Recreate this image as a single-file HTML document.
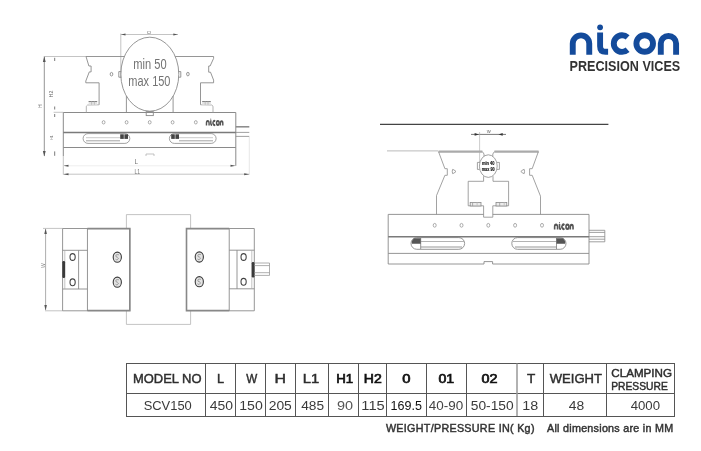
<!DOCTYPE html>
<html><head><meta charset="utf-8">
<style>
html,body{margin:0;padding:0;background:#fff;}
body{width:701px;height:451px;overflow:hidden;}
svg{display:block;will-change:transform;font-family:"Liberation Sans",sans-serif;}
</style></head>
<body>
<svg width="701" height="451" viewBox="0 0 701 451">
<rect width="701" height="451" fill="#fff"/>

<!-- ============ LOGO ============ -->
<defs>
 <g id="nic">
  <g fill="none" stroke="currentColor">
   <path d="M572.75 54.8 V43.6 A8.25 8.25 0 0 1 589.25 43.6 V54.8"/>
   <path d="M600.1 32.4 V46.2 Q600.1 51.8 605.6 51.8 H608.1"/>
   <path d="M627.6 37.4 A8.3 8.3 0 1 0 627.6 49.8"/>
   <circle cx="644.7" cy="43.5" r="8.3"/>
   <path d="M660.8 54.8 V43.6 A7.65 7.65 0 0 1 676.1 43.6 V54.8"/>
  </g>
  <circle cx="600.1" cy="27.3" r="2.9" fill="currentColor"/>
 </g>
</defs>
<use href="#nic" color="#144b9b" stroke-width="5.9"/>
<text x="569.6" y="70.8" font-size="15.3" font-weight="bold" fill="#333" textLength="110.6" lengthAdjust="spacingAndGlyphs">PRECISION VICES</text>

<!-- ============ TABLE ============ -->
<g stroke="#555" stroke-width="1" fill="none">
  <rect x="126.5" y="363.5" width="548" height="53"/>
  <line x1="126.5" y1="393.5" x2="674.5" y2="393.5"/>
  <line x1="205.5" y1="363.5" x2="205.5" y2="416"/>
  <line x1="235.5" y1="363.5" x2="235.5" y2="416"/>
  <line x1="265.5" y1="363.5" x2="265.5" y2="416"/>
  <line x1="295.5" y1="363.5" x2="295.5" y2="416"/>
  <line x1="328.5" y1="363.5" x2="328.5" y2="416"/>
  <line x1="358.5" y1="363.5" x2="358.5" y2="416"/>
  <line x1="386.5" y1="363.5" x2="386.5" y2="416"/>
  <line x1="426.5" y1="363.5" x2="426.5" y2="416"/>
  <line x1="466.5" y1="363.5" x2="466.5" y2="416"/>
  <line x1="517" y1="363.5" x2="517" y2="416" stroke="#999" stroke-width="1.5"/>
  <line x1="543.5" y1="363.5" x2="543.5" y2="416"/>
  <line x1="606.5" y1="363.5" x2="606.5" y2="416"/>
</g>
<g id="tabletext">
<text x="132.99" y="383.00" font-size="12.90" stroke="#2e2e2e" stroke-width="0.45" fill="#2e2e2e" textLength="68.53" lengthAdjust="spacingAndGlyphs">MODEL NO</text>
<text x="216.96" y="382.70" font-size="12.90" stroke="#2e2e2e" stroke-width="0.45" fill="#2e2e2e" textLength="7.06" lengthAdjust="spacingAndGlyphs">L</text>
<text x="246.20" y="382.70" font-size="12.90" stroke="#2e2e2e" stroke-width="0.45" fill="#2e2e2e" textLength="11.00" lengthAdjust="spacingAndGlyphs">W</text>
<text x="274.49" y="382.70" font-size="12.90" stroke="#2e2e2e" stroke-width="0.45" fill="#2e2e2e" textLength="11.49" lengthAdjust="spacingAndGlyphs">H</text>
<text x="302.72" y="382.70" font-size="12.90" stroke="#2e2e2e" stroke-width="0.45" fill="#2e2e2e" textLength="16.50" lengthAdjust="spacingAndGlyphs">L1</text>
<text x="336.27" y="382.70" font-size="12.90" stroke="#111" stroke-width="0.7" fill="#111" textLength="16.95" lengthAdjust="spacingAndGlyphs">H1</text>
<text x="363.81" y="382.70" font-size="12.90" stroke="#111" stroke-width="0.7" fill="#111" textLength="17.94" lengthAdjust="spacingAndGlyphs">H2</text>
<text x="402.34" y="383.00" font-size="12.90" stroke="#111" stroke-width="0.7" fill="#111" textLength="8.22" lengthAdjust="spacingAndGlyphs">0</text>
<text x="438.42" y="383.00" font-size="12.90" stroke="#111" stroke-width="0.7" fill="#111" textLength="15.76" lengthAdjust="spacingAndGlyphs">01</text>
<text x="481.58" y="383.00" font-size="12.90" stroke="#111" stroke-width="0.7" fill="#111" textLength="16.00" lengthAdjust="spacingAndGlyphs">02</text>
<text x="527.04" y="382.70" font-size="12.90" stroke="#2e2e2e" stroke-width="0.45" fill="#2e2e2e" textLength="8.27" lengthAdjust="spacingAndGlyphs">T</text>
<text x="549.81" y="382.70" font-size="12.90" stroke="#2e2e2e" stroke-width="0.45" fill="#2e2e2e" textLength="52.09" lengthAdjust="spacingAndGlyphs">WEIGHT</text>
<text x="611.39" y="377.00" font-size="11.00" stroke="#2e2e2e" stroke-width="0.45" fill="#2e2e2e" textLength="60.61" lengthAdjust="spacingAndGlyphs">CLAMPING</text>
<text x="611.27" y="390.00" font-size="11.00" stroke="#2e2e2e" stroke-width="0.45" fill="#2e2e2e" textLength="56.47" lengthAdjust="spacingAndGlyphs">PRESSURE</text>
<text x="143.63" y="410.10" font-size="13.60" fill="#3a3a3a" textLength="48.15" lengthAdjust="spacingAndGlyphs">SCV150</text>
<text x="209.65" y="409.90" font-size="13.60" fill="#3a3a3a" textLength="23.27" lengthAdjust="spacingAndGlyphs">450</text>
<text x="239.25" y="409.90" font-size="13.60" fill="#3a3a3a" textLength="23.52" lengthAdjust="spacingAndGlyphs">150</text>
<text x="268.70" y="409.90" font-size="13.60" fill="#3a3a3a" textLength="23.12" lengthAdjust="spacingAndGlyphs">205</text>
<text x="301.15" y="409.90" font-size="13.60" fill="#3a3a3a" textLength="22.89" lengthAdjust="spacingAndGlyphs">485</text>
<text x="336.94" y="409.90" font-size="13.60" fill="#555" textLength="16.06" lengthAdjust="spacingAndGlyphs">90</text>
<text x="361.34" y="409.90" font-size="13.60" fill="#3a3a3a" textLength="23.39" lengthAdjust="spacingAndGlyphs">115</text>
<text x="390.50" y="410.40" font-size="13.60" fill="#111" textLength="31.40" lengthAdjust="spacingAndGlyphs">169.5</text>
<text x="428.86" y="410.40" font-size="13.60" fill="#444" textLength="34.45" lengthAdjust="spacingAndGlyphs">40-90</text>
<text x="470.74" y="410.40" font-size="13.60" fill="#3a3a3a" textLength="42.89" lengthAdjust="spacingAndGlyphs">50-150</text>
<text x="522.31" y="410.40" font-size="13.60" fill="#3a3a3a" textLength="15.97" lengthAdjust="spacingAndGlyphs">18</text>
<text x="568.66" y="410.10" font-size="13.60" fill="#3a3a3a" textLength="15.45" lengthAdjust="spacingAndGlyphs">48</text>
<text x="630.68" y="410.10" font-size="13.60" fill="#3a3a3a" textLength="29.37" lengthAdjust="spacingAndGlyphs">4000</text>
<text x="385.90" y="431.70" font-size="10.75" stroke="#333" stroke-width="0.45" fill="#333" textLength="148.58" lengthAdjust="spacing">WEIGHT/PRESSURE IN( Kg)</text>
<text x="547.04" y="431.70" font-size="10.75" stroke="#333" stroke-width="0.45" fill="#333" textLength="126.13" lengthAdjust="spacing">All dimensions are in MM</text>
</g>
<!-- DRAWINGS inserted below -->
<g id="d1">
 <!-- dimension / extension lines -->
 <g stroke="#aaa" stroke-width="0.7" fill="none">
  <line x1="43.7" y1="56.5" x2="86" y2="56.5"/>
  <line x1="53.6" y1="112.3" x2="63.2" y2="112.3"/>
  <line x1="120.8" y1="33.5" x2="120.8" y2="78"/>
  <line x1="120.8" y1="34.5" x2="178" y2="34.5"/>
  <line x1="63.3" y1="156" x2="63.3" y2="174.5"/>
  
  <line x1="249.3" y1="137" x2="249.3" y2="174.5" stroke="#ddd"/>
  <line x1="63.3" y1="174.2" x2="249.3" y2="174.2"/>
  <line x1="63.3" y1="165.8" x2="235.7" y2="165.8" stroke="#e6e6e6"/>
 </g>
 <line x1="44.3" y1="57" x2="44.3" y2="156" stroke="#7a7a7a" stroke-width="0.8"/>
 <g fill="#555">
  <path d="M44.3 56.3 L42.9 62 L45.7 62 Z"/>
  <path d="M44.3 156.5 L42.9 151 L45.7 151 Z"/>
  <path d="M63.5 165.8 L68.5 164.8 L68.5 166.8 Z"/>
  <path d="M235.5 165.8 L230.5 164.8 L230.5 166.8 Z"/>
  <path d="M63.5 174.2 L68.5 173.2 L68.5 175.2 Z"/>
  <path d="M249.2 174.2 L244.2 173.2 L244.2 175.2 Z"/>
  <path d="M121 34.5 L125.5 33.5 L125.5 35.5 Z"/>
  <path d="M177.8 34.5 L173.3 33.5 L173.3 35.5 Z"/>
 </g>
 <g stroke="#7a7a7a" stroke-width="1" fill="none">
  <line x1="54.7" y1="57.8" x2="54.7" y2="61"/>
  <line x1="54.7" y1="106.5" x2="54.7" y2="109.5"/>
  <line x1="54.7" y1="114" x2="54.7" y2="117"/>
  <line x1="54.7" y1="151.4" x2="54.7" y2="155.8"/>
 </g>
 <!-- labels -->
 <g fill="#666" font-size="5">
  <text transform="translate(146.8,31) rotate(90)" font-size="4.5">D</text>
  <text x="134.6" y="164.4" font-size="6.3" fill="#777">L</text>
  <text x="134.4" y="173.6" font-size="6.8" fill="#777" textLength="5.6" lengthAdjust="spacingAndGlyphs">L1</text>
  <text transform="translate(52.9,97.4) rotate(-90)" textLength="6.7" lengthAdjust="spacingAndGlyphs">H2</text>
  <text transform="translate(42.4,108) rotate(-90)">H</text>
  <text transform="translate(52.6,139.7) rotate(-90)" font-size="4" textLength="4.4" lengthAdjust="spacingAndGlyphs">H1</text>
 </g>
 <!-- base -->
 <g stroke="#8a8a8a" stroke-width="1" fill="none">
  <polyline points="63.3,156 63.3,112.5 235.8,112.5 235.8,165.8"/>
  <line x1="63.3" y1="147.5" x2="235.8" y2="147.5"/>
  <polyline points="146,156 146,154 154,154 154,156" stroke="#aaa" stroke-width="0.7"/>
 </g>
 <line x1="63.3" y1="132.6" x2="235.8" y2="132.6" stroke="#7a7a7a" stroke-width="1.5"/>
 <!-- spindle -->
 <g stroke="#888" fill="none">
  <line x1="235.8" y1="126.8" x2="249.3" y2="126.8" stroke-width="1.5"/>
  <line x1="235.8" y1="132.4" x2="249.3" y2="132.4" stroke-width="0.8"/>
  <line x1="235.8" y1="136.4" x2="249.3" y2="136.4" stroke-width="0.8"/>
 </g>
 <!-- holes -->
 <g stroke="#8a8a8a" stroke-width="0.7" fill="none">
  <ellipse cx="103.6" cy="122.3" rx="1.4" ry="1.7"/>
  <ellipse cx="126.6" cy="122.3" rx="1.4" ry="1.7"/>
  <ellipse cx="149.7" cy="122.3" rx="1.4" ry="1.7"/>
  <ellipse cx="172.6" cy="122.3" rx="1.4" ry="1.7"/>
  <ellipse cx="195.8" cy="122.3" rx="1.4" ry="1.7"/>
 </g>
 <use href="#nic" color="#555" stroke-width="9" transform="translate(206,120.3) scale(0.158,0.235) translate(-569.75,-32.2)"/>
 <!-- slots -->
 <g stroke="#8a8a8a" stroke-width="0.8" fill="none">
  <rect x="83.1" y="133.6" width="46.7" height="9.8" rx="4.9"/>
  <line x1="86" y1="137.7" x2="120" y2="137.7" stroke="#bbb"/>
  <line x1="86" y1="140.8" x2="120" y2="140.8"/>
  <rect x="169.4" y="133.6" width="46.7" height="9.8" rx="4.9"/>
  <line x1="179" y1="137.7" x2="213" y2="137.7" stroke="#bbb"/>
  <line x1="179" y1="140.8" x2="213" y2="140.8"/>
 </g>
 <g fill="#444">
  <rect x="120.2" y="134.3" width="3.6" height="4.6"/>
  <rect x="124.4" y="134.3" width="3.6" height="4.6"/>
  <rect x="171.2" y="134.3" width="3.6" height="4.6"/>
  <rect x="175.4" y="134.3" width="3.6" height="4.6"/>
 </g>
 <!-- jaws -->
 <g stroke="#8a8a8a" stroke-width="0.9" fill="none">
  <polyline points="124.2,56.5 86,56.5 88.9,66 91.1,66 91.1,71.9 89.3,71.9 85.8,81 85.8,82.8 99.1,82.8 99.1,104.8"/>
  <polyline points="99.1,104.8 87.6,105 86.3,106.2 86.3,112.3" stroke="#aaa"/>
  <polyline points="175.2,56.5 213.6,56.5 213.6,58.4 210.1,66 208.7,66 208.7,72.2 210.5,72.2 213.6,80.1 213.6,82.8 200.5,82.8 200.5,104.8"/>
  <polyline points="200.5,104.8 211.7,105 213,106.2 213,112.3" stroke="#aaa"/>
  <line x1="126.4" y1="96" x2="126.4" y2="112.3"/>
  <line x1="173.1" y1="96" x2="173.1" y2="112.3"/>
  <ellipse cx="149.8" cy="74.2" rx="29" ry="37"/>
  <polyline points="121.2,71.6 118.8,71.6 118.8,77.2 121.2,77.2"/>
  <polyline points="178.4,71.6 180.8,71.6 180.8,77.2 178.4,77.2"/>
  <rect x="146.2" y="111.6" width="7.1" height="4"/>
  <ellipse cx="111.5" cy="74.2" rx="1.3" ry="1.8"/>
  <ellipse cx="187.9" cy="74.1" rx="1.3" ry="1.8"/>
  <rect x="88.6" y="101.6" width="8.6" height="3.2" fill="#e2e2e2" stroke="none"/>
  <line x1="88.6" y1="101.5" x2="97.2" y2="101.5" stroke="#777"/>
  <line x1="91.6" y1="101.6" x2="91.6" y2="104.8" stroke="#bbb"/>
  <line x1="94.4" y1="101.6" x2="94.4" y2="104.8" stroke="#bbb"/>
  <rect x="202.2" y="101.6" width="8.6" height="3.2" fill="#e2e2e2" stroke="none"/>
  <line x1="202.2" y1="101.5" x2="210.8" y2="101.5" stroke="#777"/>
  <line x1="205.2" y1="101.6" x2="205.2" y2="104.8" stroke="#bbb"/>
  <line x1="208" y1="101.6" x2="208" y2="104.8" stroke="#bbb"/>
 </g>
 <g fill="#737373" font-size="14.8" text-anchor="middle">
  <text x="150" y="69" textLength="33.3" lengthAdjust="spacingAndGlyphs">min 50</text>
  <text x="149.4" y="85.7" textLength="42.2" lengthAdjust="spacingAndGlyphs">max 150</text>
 </g>
</g>
<g id="d2">
 <g stroke="#aaa" stroke-width="0.7" fill="none">
  <line x1="43" y1="228.4" x2="62.6" y2="228.4"/>
  <line x1="45" y1="310.8" x2="62.6" y2="310.8"/>
  <polyline points="126.4,228.6 126.4,214.6 190.6,214.6 190.6,228.6"/>
  <polyline points="126.4,310.6 126.4,324.4 190.6,324.4 190.6,310.6"/>
 </g>
 <line x1="45.6" y1="229" x2="45.6" y2="310" stroke="#8a8a8a" stroke-width="0.7"/>
 <g fill="#555">
  <path d="M45.6 228.4 L44.3 234 L46.9 234 Z"/>
  <path d="M45.6 310.6 L44.3 305 L46.9 305 Z"/>
 </g>
 <text transform="translate(45,268) rotate(-90)" font-size="5" fill="#888">W</text>
 <!-- body -->
 <g stroke="#8a8a8a" stroke-width="0.9" fill="none">
  <polyline points="87.4,228.5 62.6,228.5 62.6,310.8 87.4,310.8"/>
  <polyline points="229.2,228.5 254.3,228.5 254.3,310.8 229.2,310.8"/>
  <line x1="62.6" y1="250.3" x2="87.4" y2="250.3"/>
  <line x1="62.6" y1="289" x2="87.4" y2="289"/>
  <line x1="78.6" y1="250.3" x2="78.6" y2="289"/>
  <line x1="64.8" y1="250.3" x2="64.8" y2="289" stroke="#aaa" stroke-width="0.7"/>
  <line x1="229.2" y1="250.2" x2="254.3" y2="250.2"/>
  <line x1="229.2" y1="288.8" x2="254.3" y2="288.8"/>
  <line x1="237" y1="250.2" x2="237" y2="288.8"/>
  <line x1="251.8" y1="250.2" x2="251.8" y2="288.8" stroke="#aaa" stroke-width="0.7"/>
  <ellipse cx="72.6" cy="257" rx="2.6" ry="3.4" stroke="#444" stroke-width="1.1"/>
  <ellipse cx="72.6" cy="282.3" rx="2.6" ry="3.4" stroke="#444" stroke-width="1.1"/>
  <ellipse cx="243.6" cy="257" rx="2.6" ry="3.4" stroke="#444" stroke-width="1.1"/>
  <ellipse cx="243.6" cy="281.8" rx="2.6" ry="3.4" stroke="#444" stroke-width="1.1"/>
 </g>
 <!-- jaws -->
 <g stroke="#8a8a8a" stroke-width="0.9" fill="none">
  <rect x="87.4" y="228.6" width="42.4" height="82"/>
  <rect x="186.5" y="228.6" width="42.7" height="82"/>
 </g>
 <g stroke="#888" stroke-width="1.6" fill="none">
  <polyline points="87.4,228.6 129.8,228.6 129.8,310.6 87.4,310.6"/>
  <polyline points="229.2,228.6 186.5,228.6 186.5,310.6 229.2,310.6"/>
 </g>
 <!-- screws -->
  <ellipse cx="117.3" cy="257.2" rx="4.1" ry="5.1" fill="#e4e4e4" stroke="#3a3a3a" stroke-width="1.1"/>
  <path d="M118.9 254.8 Q114.9 254.0 116.1 256.8 Q119.9 257.8 117.3 259.8 Q115.9 260.0 115.5 259.2" fill="none" stroke="#888" stroke-width="0.8"/>
  <ellipse cx="117.3" cy="282.2" rx="4.1" ry="5.1" fill="#e4e4e4" stroke="#3a3a3a" stroke-width="1.1"/>
  <path d="M118.9 279.8 Q114.9 279.0 116.1 281.8 Q119.9 282.8 117.3 284.8 Q115.9 285.0 115.5 284.2" fill="none" stroke="#888" stroke-width="0.8"/>
  <ellipse cx="199.3" cy="257" rx="4.1" ry="5.1" fill="#e4e4e4" stroke="#3a3a3a" stroke-width="1.1"/>
  <path d="M200.9 254.6 Q196.9 253.8 198.1 256.6 Q201.9 257.6 199.3 259.6 Q197.9 259.8 197.5 259.0" fill="none" stroke="#888" stroke-width="0.8"/>
  <ellipse cx="199.3" cy="281.7" rx="4.1" ry="5.1" fill="#e4e4e4" stroke="#3a3a3a" stroke-width="1.1"/>
  <path d="M200.9 279.3 Q196.9 278.5 198.1 281.3 Q201.9 282.3 199.3 284.3 Q197.9 284.5 197.5 283.7" fill="none" stroke="#888" stroke-width="0.8"/>
 <!-- handles -->
 <rect x="62.3" y="261" width="2.8" height="17" rx="1.2" fill="#3a3a3a"/>
 <rect x="251.7" y="262" width="2.8" height="15.5" rx="1.2" fill="#3a3a3a"/>
 <g stroke="#999" stroke-width="0.8" fill="none">
  <polyline points="254.4,263 269.5,263 269.5,275.4 254.4,275.4"/>
  <line x1="254.4" y1="265.6" x2="269.5" y2="265.6"/>
  <line x1="254.4" y1="272.7" x2="269.5" y2="272.7"/>
 </g>
</g>
<g id="d3">
 <line x1="380" y1="124.3" x2="608.4" y2="124.3" stroke="#444" stroke-width="1.3"/>
 <line x1="387" y1="150.9" x2="438" y2="150.9" stroke="#bbb" stroke-width="1"/>
 <!-- W dim -->
 <line x1="471" y1="134.4" x2="506" y2="134.4" stroke="#555" stroke-width="0.8"/>
 <line x1="479.6" y1="132" x2="479.6" y2="163" stroke="#aaa" stroke-width="0.6"/>
 <g fill="#333">
  <path d="M478.8 134.4 L474.6 133.1 L474.6 135.7 Z"/>
  <path d="M498.5 134.4 L502.7 133.1 L502.7 135.7 Z"/>
 </g>
 <text x="486.7" y="132.8" font-size="4" fill="#555" textLength="4" lengthAdjust="spacingAndGlyphs">W</text>
 <!-- jaw top bars -->
 <g stroke="#aaa" stroke-width="2.2" fill="none">
  <line x1="438.5" y1="151.6" x2="482.4" y2="151.6"/>
  <line x1="494.4" y1="151.6" x2="538.6" y2="151.6"/>
 </g>
 <g stroke="#8a8a8a" stroke-width="0.8" fill="none">
  <polyline points="438.5,151.6 444.9,168.7 447.3,168.7 447.3,175.3 444.9,175.3 436.5,195.6 436.5,214.4"/>
  <polyline points="538.4,151.6 532.2,168.7 529.6,168.7 529.6,175.3 532.2,175.3 540.5,196.2 540.5,214.4"/>
  <polyline points="482.4,151.6 484,154 484,156.5"/>
  <polyline points="494.4,151.6 492.8,154 492.8,156.5"/>
  <ellipse cx="488.3" cy="166.1" rx="8.9" ry="11.3"/>
  <polyline points="479.6,162.4 477.4,162.4 477.4,169.4 479.6,169.4"/>
  <polyline points="497,162.4 499.4,162.4 499.4,169.4 497,169.4"/>
  <polyline points="483.6,176.2 483.6,181.3 468.2,181.3 468.2,205.8 483.6,205.8 483.6,217.2 492.8,217.2 492.8,205.8 508.6,205.8 508.6,181.3 493,181.3 493,176.2"/>
  <rect x="470.2" y="202.4" width="10.8" height="3.6" fill="#ececec"/>
  <line x1="472.6" y1="202.4" x2="472.6" y2="206" stroke="#999"/>
  <line x1="477.1" y1="202.4" x2="477.1" y2="206" stroke="#bbb"/>
  <rect x="496" y="202.4" width="10.8" height="3.6" fill="#ececec"/>
  <line x1="499.7" y1="202.4" x2="499.7" y2="206" stroke="#999"/>
  <line x1="504.2" y1="202.4" x2="504.2" y2="206" stroke="#bbb"/>
  <path d="M452.6 169.4 Q453.4 169.2 456 171.5 Q453.4 173.8 452.6 173.6 Q451.9 171.5 452.6 169.4 Z"/>
  <path d="M524.2 169.4 Q523.4 169.2 520.8 171.5 Q523.4 173.8 524.2 173.6 Q524.9 171.5 524.2 169.4 Z"/>
 </g>
 <g font-size="5" font-weight="bold" fill="#111" stroke="#111" stroke-width="0.15" text-anchor="middle">
  <text x="488.2" y="165" textLength="12.6" lengthAdjust="spacingAndGlyphs">min 40</text>
  <text x="488.2" y="171.4" textLength="13" lengthAdjust="spacingAndGlyphs">max 90</text>
 </g>
 <!-- base -->
 <g stroke="#8a8a8a" stroke-width="0.9" fill="none">
  <polyline points="483.6,214.4 388.2,214.4 388.2,264 484,264 484,261.6 492.6,261.6 492.6,264 589,264 589,214.4 492.8,214.4"/>
  <line x1="388.2" y1="253.4" x2="589" y2="253.4"/>
  <rect x="411" y="237.6" width="53.6" height="11.7" rx="5.8"/>
  <line x1="420.7" y1="241.5" x2="464" y2="241.5" stroke="#aaa"/>
  <line x1="420.7" y1="247" x2="462" y2="247"/>
  <line x1="420.7" y1="238" x2="420.7" y2="249"/>
  <rect x="511.8" y="237.6" width="54.2" height="11.7" rx="5.8"/>
  <line x1="513" y1="241.5" x2="556.5" y2="241.5" stroke="#aaa"/>
  <line x1="515" y1="247" x2="556.5" y2="247"/>
  <line x1="556.5" y1="238" x2="556.5" y2="249"/>
 </g>
 <line x1="388.2" y1="236.8" x2="589" y2="236.8" stroke="#7a7a7a" stroke-width="1.4"/>
 <g fill="#555">
  <path d="M420.7 238.2 L414 238.2 Q411.6 240 411.8 243.8 L420.7 243.8 Z"/>
  <path d="M556.5 238.2 L563 238.2 Q565.4 240 565.2 243.8 L556.5 243.8 Z"/>
 </g>
 <g stroke="#8a8a8a" stroke-width="0.7" fill="none">
  <ellipse cx="434.7" cy="225.3" rx="1.5" ry="1.9"/>
  <ellipse cx="461.5" cy="225.3" rx="1.5" ry="1.9"/>
  <ellipse cx="488.3" cy="225.3" rx="1.5" ry="1.9"/>
  <ellipse cx="515.1" cy="225.3" rx="1.5" ry="1.9"/>
  <ellipse cx="542" cy="225.3" rx="1.5" ry="1.9"/>
 </g>
 <use href="#nic" color="#555" stroke-width="9" transform="translate(554.1,223.9) scale(0.178,0.252) translate(-569.75,-32.2)"/>
 <g stroke="#888" stroke-width="0.8" fill="none">
  <polyline points="589,230.3 604.8,230.3 604.8,241.8 589,241.8"/>
  <line x1="589" y1="232.4" x2="604.8" y2="232.4"/>
  <line x1="589" y1="236.7" x2="604.8" y2="236.7"/>
  <line x1="589" y1="239.2" x2="604.8" y2="239.2"/>
 </g>
</g>
</svg>
</body></html>
